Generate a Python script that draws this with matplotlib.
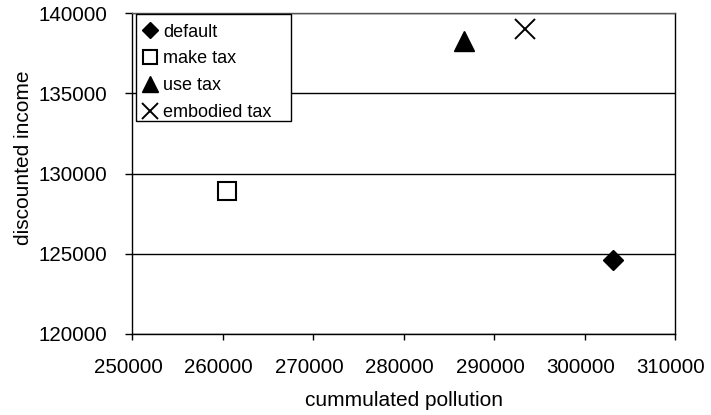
import matplotlib
matplotlib.use("Agg")
import matplotlib.pyplot as plt
from matplotlib.patches import Rectangle
from matplotlib.transforms import ScaledTranslation

plt.rcParams["font.family"] = ["Liberation Sans", "DejaVu Sans"]

# one point per tax scenario: (cummulated pollution, discounted income)
scenarios = ["default", "make tax", "use tax", "embodied tax"]
pollution = [303200, 260500, 286700, 293400]
income = [124600, 128900, 138300, 139000]

x_ticks = [250000, 260000, 270000, 280000, 290000, 300000, 310000]
y_ticks = [120000, 125000, 130000, 135000, 140000]

styles = [
    dict(marker="D", markersize=10, color="black"),
    dict(marker="s", markersize=13, markerfacecolor="white",
         markeredgecolor="black", markeredgewidth=1.5, color="black"),
    dict(marker="^", markersize=14, color="black"),
    dict(marker="x", markersize=15, markeredgewidth=1.4, color="black"),
]

fig = plt.figure(figsize=(7.11, 4.15), dpi=100)
ax = fig.add_axes([0.1857, 0.1952, 0.7637, 0.7728])

for name, px, py, st in zip(scenarios, pollution, income, styles):
    ax.plot([px], [py], linestyle="none", label=name, **st)

ax.set_xlim(x_ticks[0], x_ticks[-1])
ax.set_ylim(y_ticks[0], y_ticks[-1])
ax.set_xticks(x_ticks)
ax.set_yticks(y_ticks)
ax.set_xticklabels([str(v) for v in x_ticks])
ax.set_yticklabels([str(v) for v in y_ticks])

ax.grid(axis="y", color="black", linewidth=1)
ax.set_axisbelow(True)
for side in ["left", "bottom", "right"]:
    ax.spines[side].set_color("black")
    ax.spines[side].set_linewidth(1)
ax.spines["top"].set_color("#555555")
ax.spines["top"].set_linewidth(1)

ax.tick_params(axis="x", direction="out", length=4.5, width=1, pad=13, labelsize=14.8)
ax.tick_params(axis="y", direction="out", length=5, width=1, pad=13, labelsize=14.8)

# x tick labels sit a little left of their ticks
shift = ScaledTranslation(-4 / 100, 0, fig.dpi_scale_trans)
for lbl in ax.get_xticklabels():
    lbl.set_transform(lbl.get_transform() + shift)

ax.set_xlabel("cummulated pollution", fontsize=15, labelpad=10)
ax.set_ylabel("discounted income", fontsize=15)
ax.yaxis.set_label_coords(-0.182, 0.55)

# legend entries without their own frame, boxed by a wider rectangle
leg = ax.legend(loc="upper left", bbox_to_anchor=(0.008, 0.985), fontsize=13,
                markerscale=0.8, frameon=False,
                borderpad=0.3, labelspacing=0.55, handlelength=0.9,
                handletextpad=0.3, borderaxespad=0)
leg.set_zorder(6)
frame = Rectangle((0.0074, 0.6636), 0.2856, 0.3344, transform=ax.transAxes,
                  facecolor="white", edgecolor="black", linewidth=1, zorder=5)
ax.add_patch(frame)

fig.savefig("out.png", dpi=100)
